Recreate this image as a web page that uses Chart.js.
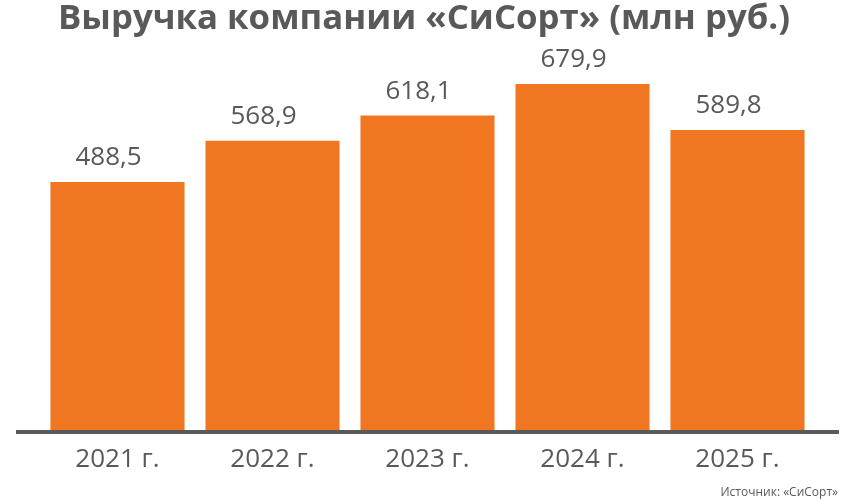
<!DOCTYPE html>
<html>
<head>
<meta charset="utf-8">
<script src="https://cdn.jsdelivr.net/npm/chart.js@4"></script>
<style>
    html, body { margin: 0; padding: 0; background: #fff; }
    #wrap { width: 850px; height: 501px; }
</style>
</head>
<body>
<div id="wrap"><canvas id="chart-vyruchka" width="850" height="501"></canvas></div>
<script>
const titulo = 'Выручка компании «СиСорт» (млн руб.)';
const fuente = 'Источник: «СиСорт»';
const anios = ['2021 г.', '2022 г.', '2023 г.', '2024 г.', '2025 г.'];
const vyruchka = [488.5, 568.9, 618.1, 679.9, 589.8];

const GRIS = '#58595b';
const NARANJA = '#f07622';

// titulo, linea del eje, valores sobre las barras y fuente
const decor = {
    id: 'decor',
    afterDraw(chart) {
        const ctx = chart.ctx;
        ctx.save();

        // titulo comprimido a lo ancho
        ctx.font = 'bold 34px "Open Sans"';
        ctx.fillStyle = GRIS;
        ctx.textBaseline = 'alphabetic';
        ctx.textAlign = 'left';
        const w = ctx.measureText(titulo).width;
        const sx = 732 / w;
        ctx.save();
        ctx.translate(58, 29);
        ctx.scale(sx, 1);
        ctx.fillText(titulo, 0, 0);
        ctx.restore();

        // linea del eje
        const y0 = chart.scales.y.getPixelForValue(0);
        ctx.fillStyle = '#5a5a5a';
        ctx.fillRect(16, y0 - 2, 823, 4);

        // valores (un poco a la izquierda, como en el original)
        ctx.font = '26px "Open Sans"';
        ctx.fillStyle = GRIS;
        ctx.textAlign = 'center';
        chart.getDatasetMeta(0).data.forEach((bar, i) => {
            ctx.fillText(vyruchka[i].toFixed(1).replace('.', ','), bar.x - 9, bar.y - 17);
        });

        // fuente
        ctx.font = '12px "Open Sans"';
        ctx.textAlign = 'right';
        ctx.fillText(fuente, 838, 496);
        ctx.restore();
    }
};

new Chart(document.getElementById('chart-vyruchka').getContext('2d'), {
    type: 'bar',
    data: {
        labels: anios,
        datasets: [{
            data: vyruchka,
            backgroundColor: NARANJA,
            borderWidth: 0,
            categoryPercentage: 1,
            barPercentage: 0.865
        }]
    },
    options: {
        responsive: false,
        animation: false,
        layout: { padding: { top: 48, left: 40, right: 35, bottom: 0 } },
        plugins: { legend: { display: false }, tooltip: { enabled: false }, title: { display: false } },
        scales: {
            y: { display: false, min: 0, max: 750 },
            x: {
                grid: { display: false, drawTicks: false },
                border: { display: false },
                ticks: { color: GRIS, font: { family: 'Open Sans', size: 26 }, padding: 12 },
                afterFit(s) { s.height = 69; }
            }
        }
    },
    plugins: [decor]
});
</script>
</body>
</html>
